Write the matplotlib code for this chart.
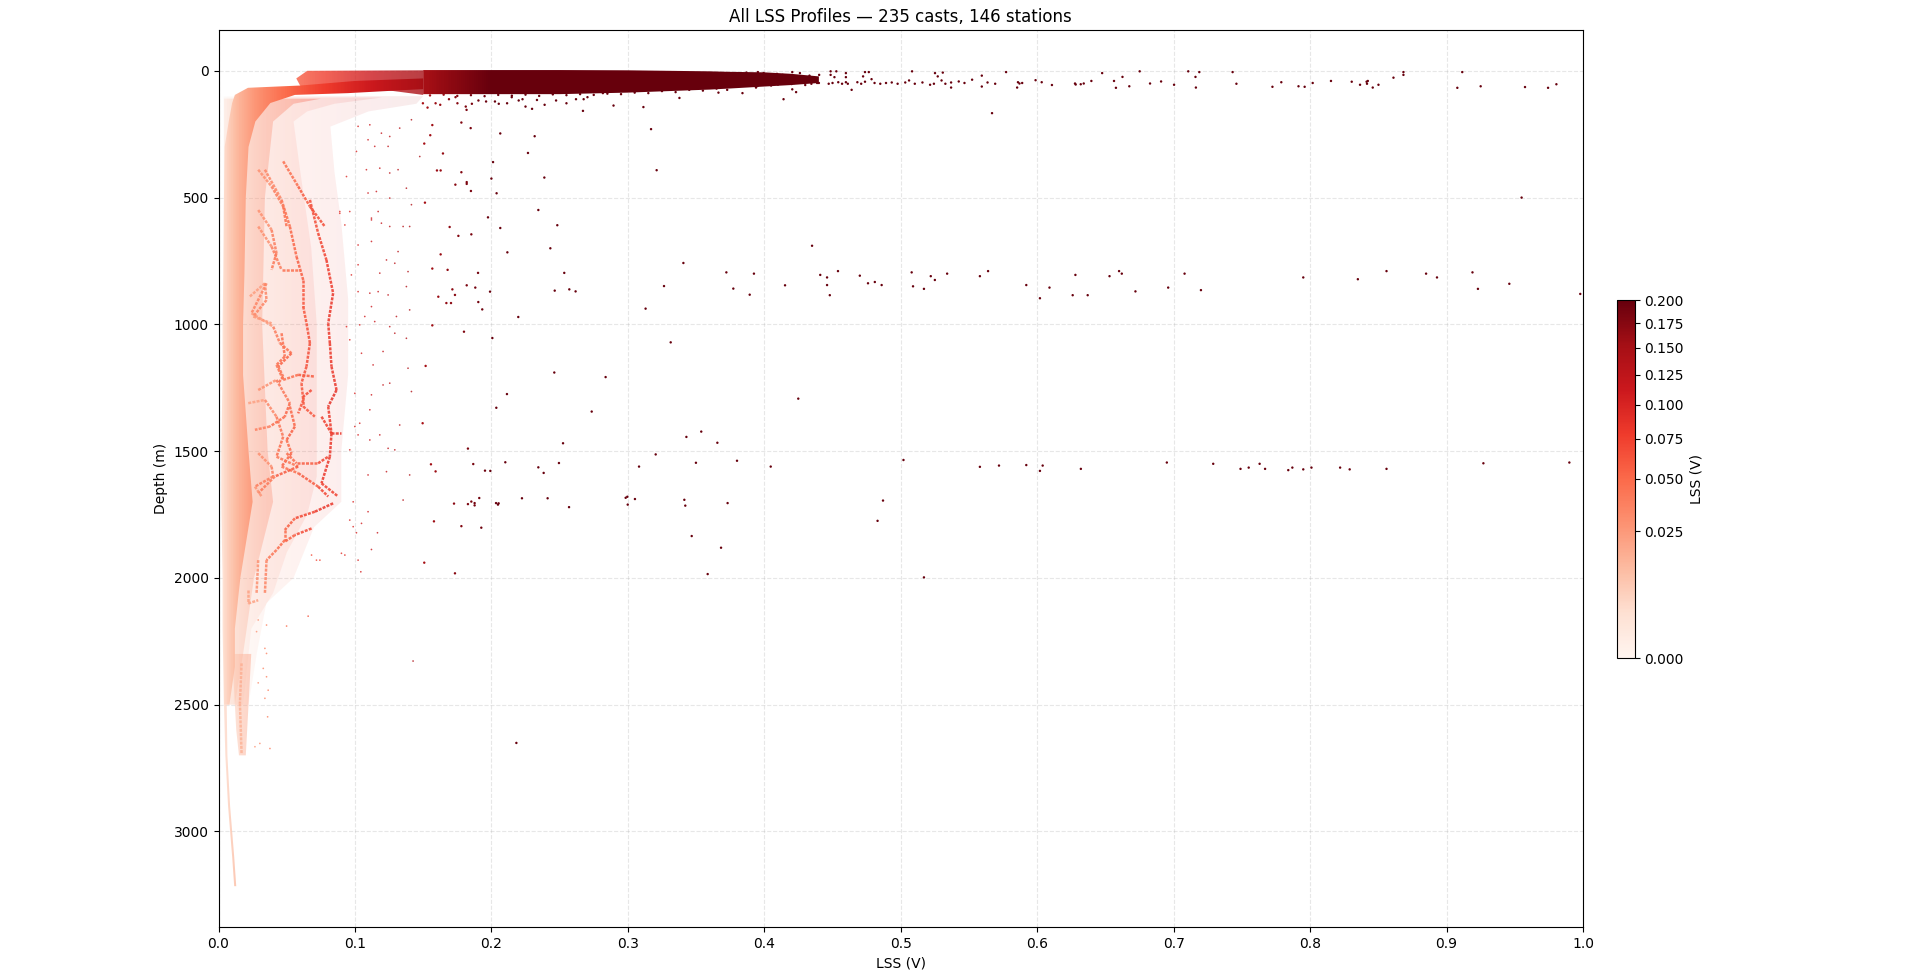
import matplotlib
matplotlib.use('Agg')
import numpy as np
import matplotlib.pyplot as plt
from matplotlib.colors import PowerNorm
from matplotlib.cm import ScalarMappable
from matplotlib.collections import LineCollection
from matplotlib.patches import Polygon

# dense body of the casts: edges of the cloud per depth
body_depth = [95, 127, 200, 300, 500, 800, 1000, 1200, 1500, 1700, 2000, 2200, 2350, 2500]
body_left = [.012, .010, .0075, .0045, .004, .0035, .003, .003, .002, .002, .003, .003, .0035, .004]
body_right = [.056, .038, .027, .022, .020, .019, .018, .018, .022, .025, .016, .012, .012, .008]

# thin deep tail
tail_depth = [2500, 2700, 2900, 3100, 3216]
tail_left = [.0040, .0050, .0070, .0100, .0115]
tail_right = [.0060, .0065, .0085, .0115, .0130]

# speckled cloud right of the body, three densities
inner_depth = [110, 130, 200, 500, 1000, 1500, 1700, 2000, 2300, 2500]
inner_right = [.075, .055, .040, .034, .032, .036, .040, .026, .018, .012]
mid_depth = [105, 130, 160, 200, 400, 700, 1000, 1300, 1600, 1750, 1900, 2060, 2200, 2500]
mid_right = [.12, .085, .065, .055, .060, .068, .072, .072, .072, .065, .050, .040, .024, .018]
outer_depth = [100, 130, 160, 220, 400, 600, 900, 1200, 1500, 1700, 1800, 2000, 2100, 2300, 2500]
outer_right = [.15, .145, .11, .082, .085, .09, .095, .095, .09, .09, .07, .055, .035, .028, .022]

# patch of samples around 2500-2700 m
blob_depth = [2300, 2500, 2600, 2700]
blob_left = [.010, .012, .013, .015]
blob_right = [.024, .022, .021, .020]

# surface band
band_lss = [.15, .2, .25, .3, .33, .36, .374, .40, .42, .44]
band_top = [-3, -3, -3, -2, 0, 2, 4, 6, 12, 22]
band_bot = [92, 92, 92, 86, 80, 74, 70, 62, 56, 48]

# ridges inside the cloud, (lss, depth)
ridge_a_lss = [.0670, .0730, .0791, .0840, .0804, .0816, .0828, .0865, .0804, .0828, .0816, .0755, .0877]
ridge_a_depth = [509, 640, 746, 877, 996, 1074, 1166, 1259, 1324, 1430, 1522, 1627, 1679]
ridge_b_lss = [.034, .0462, .0523, .0572, .0621, .0621, .0645, .0670, .0645, .0608, .0621, .0584]
ridge_b_depth = [390, 509, 614, 733, 825, 930, 996, 1074, 1166, 1232, 1298, 1351]
ridge_c_lss = [.0523, .0560, .0499, .0535, .0462, .0584, .0730, .0804]
ridge_c_depth = [1324, 1403, 1456, 1508, 1561, 1587, 1640, 1679]
ridge_d_lss = [.0352, .0242, .0401, .0450, .0535, .0438, .0474, .0438]
ridge_d_depth = [838, 956, 1009, 1074, 1114, 1166, 1206, 1232]
ridge_e_lss = [.0291, .0389, .0462, .0596]
ridge_e_depth = [614, 693, 785, 785]
ridge_f_lss = [.0218, .0340, .0425, .0474, .0425, .0584, .0413, .0291]
ridge_f_depth = [1311, 1298, 1364, 1443, 1522, 1561, 1600, 1666]
ridge_g_lss = [.0840, .0706, .0560, .0486, .0486, .0425, .0352, .0340]
ridge_g_depth = [1706, 1739, 1765, 1811, 1851, 1890, 1930, 2061]
ridge_h_lss = [.0291, .0279]
ridge_h_depth = [1930, 2061]
ridge_i_lss = [.0682, .0560, .0486]
ridge_i_depth = [1805, 1831, 1857]
ridge_j_lss = [.0169, .0157, .0169]
ridge_j_depth = [2337, 2495, 2692]
ridge_k_lss = [.0291, .0389, .0425, .0389]
ridge_k_depth = [549, 627, 719, 785]
ridge_l_lss = [.0230, .0340, .0352, .0255, .0389]
ridge_l_depth = [890, 838, 904, 969, 996]
ridge_m_lss = [.0462, .0486, .0425, .0474, .0584, .0706]
ridge_m_depth = [1035, 1127, 1160, 1219, 1199, 1206]
ridge_n_lss = [.0291, .0425, .0523, .0486, .0377, .0267]
ridge_n_depth = [1259, 1219, 1311, 1364, 1403, 1416]
ridge_o_lss = [.0682, .0621, .0621, .0706]
ridge_o_depth = [1259, 1285, 1324, 1364]
ridge_p_lss = [.0755, .0828, .0901]
ridge_p_depth = [1364, 1430, 1430]
ridge_q_lss = [.0499, .0572, .0730, .0804]
ridge_q_depth = [1508, 1548, 1548, 1522]
ridge_r_lss = [.0291, .0389, .0401, .0267, .0316]
ridge_r_depth = [1508, 1561, 1600, 1640, 1679]
ridge_s_lss = [.0291, .0389, .0474, .0499]
ridge_s_depth = [390, 456, 535, 614]
ridge_t_lss = [.0474, .0584, .0670, .0779]
ridge_t_depth = [357, 456, 535, 614]
ridge_u_lss = [.0218, .0218, .0291]
ridge_u_depth = [2048, 2101, 2088]

# faint single samples
faint_lss = [.0889, .0926, .1023, .1121, .1170, .1255, .1353, .1401, .1121, .1316, .1231, .1292, .1389, .1023, .1182,
             .0974, .1023, .1243, .1170, .1109, .1377, .1121, .1072, .1304, .1401, .0938, .1145, .1255, .1035, .1377,
             .1292, .0962, .1048, .1206, .1389, .1133, .1255, .1206, .1414, .0999, .1121, .1109, .1035, .1328, .1182,
             .1109, .1023, .0999, .0962, .1243, .1292, .1231, .1096, .1401, .1353,
             .1023, .1109, .1194, .1255, .1414, .1328, .1011, .1096, .1145, .1243, .1475, .1084, .1182, .1255, .1316,
             .1377, .0938, .1096, .1157, .1255, .0889, .0962, .1121, .1414, .1194,
             .0987, .1096, .0962, .0987, .1011, .1048, .1165, .0901, .0926, .1023, .0743, .0682, .0718, .1121, .1043,
             .0657, .0499, .1426, .0352, .0279, .0291, .0340, .0352, .0328, .0352, .0291, .0364, .0340, .0360, .0377,
             .0267, .0303]
faint_depth = [562, 608, 687, 588, 555, 614, 614, 614, 673, 713, 746, 759, 792, 765, 798,
               805, 871, 884, 871, 877, 851, 930, 969, 969, 943, 1009, 989, 1009, 1002, 1055,
               1035, 1061, 1114, 1107, 1173, 1160, 1232, 1239, 1265, 1272, 1278, 1337, 1390, 1397, 1436,
               1456, 1436, 1403, 1495, 1489, 1495, 1581, 1594, 1594, 1693,
               219, 213, 246, 259, 193, 226, 318, 272, 298, 298, 338, 390, 384, 403, 390,
               463, 417, 482, 476, 502, 555, 555, 581, 528, 601,
               1700, 1739, 1772, 1798, 1822, 1785, 1822, 1903, 1910, 1930, 1930, 1910, 1930, 1888, 1976,
               2151, 2190, 2328, 2186, 2212, 2166, 2278, 2298, 2357, 2390, 2414, 2443, 2475, 2548, 2673,
               2666, 2653]

# strong outliers, mid depths
out_lss = [.1567, .1780, .1848, .2065, .2317, .3170, .1552, .1508, .1645, .2268, .2012, .1601, .1628, .1780, .3211,
           .2000, .2388, .1736, .1819, .1819, .1850, .2038, .1513, .2344, .1975, .1694, .2065, .2483, .1758, .1853,
           .2432, .1628, .2117, .3407, .1567, .1679, .1902, .2534, .3722, .3924, .1819, .1882, .1714, .1990, .2464,
           .2571, .2617, .3265, .3773, .4152, .3893, .1611, .1733, .1670, .1704, .1904, .1933, .3130, .2197, .1567,
           .1799, .2007, .3314, .1518, .2461, .2837, .2114, .4249, .2036, .2735, .1496, .3538, .3429, .2525, .3656,
           .1828, .3204, .1557, .1867, .2102, .2495, .3499, .3800, .3082, .2344, .4047, .1591, .1953, .1992, .2383,
           .1726, .1828, .1853, .1877, .1877, .1911, .2034, .2048, .2053, .2224, .2412, .2569, .2984, .2996, .2999,
           .3052, .3414, .3421, .3731, .1579, .1780, .1926, .3468, .3683, .1508, .1733, .3585, .2183]
out_depth = [214, 204, 226, 247, 258, 230, 254, 287, 326, 324, 360, 393, 393, 400, 392,
             425, 421, 449, 439, 446, 474, 483, 520, 549, 578, 616, 620, 609, 651, 645,
             700, 724, 716, 758, 780, 785, 797, 797, 795, 800, 846, 855, 862, 871, 867,
             862, 870, 849, 859, 846, 883, 891, 884, 916, 916, 912, 941, 938, 971, 1004,
             1029, 1054, 1071, 1164, 1190, 1208, 1275, 1293, 1329, 1344, 1390, 1423, 1444, 1469, 1467,
             1490, 1513, 1552, 1551, 1544, 1547, 1546, 1538, 1561, 1564, 1561, 1580, 1577, 1578, 1586,
             1707, 1709, 1699, 1705, 1714, 1685, 1705, 1711, 1706, 1686, 1686, 1721, 1684, 1680, 1711,
             1689, 1692, 1715, 1705, 1777, 1796, 1802, 1835, 1881, 1940, 1982, 1985, 2651]

# strong outliers near 800 m and 1550 m, right part
far_lss = [.441, .446, .446, .448, .454, .470, .476, .481, .486, .508, .509, .517, .522, .525, .534, .558, .564,
           .592, .602, .609, .626, .628, .637, .653, .660, .662, .672, .696, .708, .720, .795, .835, .856, .885,
           .893, .919, .923, .946, .998, .435, .955, .517,
           .502, .558, .572, .592, .602, .604, .632, .695, .729, .749, .755, .763, .767, .784, .787, .795, .801,
           .822, .829, .856, .927, .990, .483, .487]
far_depth = [805, 815, 845, 885, 790, 808, 838, 833, 845, 795, 850, 860, 810, 825, 800, 810, 790,
             845, 897, 855, 885, 805, 885, 810, 790, 800, 870, 855, 800, 865, 815, 822, 790, 800,
             815, 795, 860, 840, 880, 690, 500, 1998,
             1535, 1562, 1557, 1555, 1578, 1557, 1570, 1545, 1550, 1570, 1565, 1550, 1570, 1575, 1565, 1572, 1565,
             1565, 1572, 1570, 1548, 1545, 1775, 1695]

# strong outliers along the surface, right part
top_lss = [.5772, .5853, .5859, .5870, .5890, .5988, .6033, .6108, .6277, .6282, .6319, .6341, .6397, .6476, .6563,
           .6577, .6625, .6675, .6751, .6827, .6908, .7003, .7107, .7160, .7163, .7188, .7432, .7460, .7724, .7789,
           .7915, .7960, .8019, .8153, .8305, .8366, .8414, .8423, .8417, .8459, .8501, .8611, .8684, .8684, .9079,
           .9115, .9250, .9575, .9744, .9805,
           .4486, .4528, .4486, .4598, .4514, .4598, .4738, .4766, .4724, .4786, .5083, .5251, .5308, .5271, .5594,
           .4472, .4500, .4542, .4570, .4598, .4612, .4682, .4710, .4738, .4808, .4850, .4892, .4934, .4977, .5033,
           .5061, .5103, .5159, .5215, .5243, .5299, .5327, .5369, .5425, .5467, .5523, .5594, .5636, .5692, .5369,
           .4640, .4261, .4331, .4402, .4387, .4205, .4135, .4163, .4219, .4303, .4345, .4275, .4093, .3995, .3953,
           .3869, .3798, .3770, .4233, .4205, .3840, .3939, .3728, .3664, .3378, .3114, .4141, .5669]
top_depth = [5, 66, 45, 50, 48, 37, 45, 56, 50, 54, 53, 50, 40, 9, 40,
             67, 24, 61, 2, 50, 42, 55, 2, 24, 66, 5, 5, 51, 63, 45,
             61, 63, 48, 40, 43, 55, 43, 40, 51, 66, 55, 27, 5, 16, 67,
             5, 61, 64, 67, 53,
             2, 2, 16, 9, 25, 25, 5, 5, 22, 33, 2, 9, 7, 22, 19,
             51, 48, 45, 51, 45, 51, 45, 51, 43, 48, 51, 48, 46, 51, 46,
             38, 51, 46, 55, 51, 38, 51, 46, 42, 48, 35, 62, 46, 51, 66,
             75, 9, 19, 16, 48, 5, 16, 35, 48, 38, 51, 27, 12, 9, 5,
             7, 9, 22, 84, 73, 88, 66, 75, 86, 107, 143, 112, 167]

# strong outliers just under the surface band
under_lss = [.1498, .1532, .1591, .1625, .1689, .1737, .1751, .1812, .1818, .1857, .1905, .1961, .2026, .2054, .2115,
             .2149, .2200, .2228, .2250, .2298, .2334, .2390, .2474, .2550, .2620, .2676, .2704, .2671, .2817, .2895,
             .155, .165, .175, .185, .195, .205, .215, .225, .235, .245, .255, .265, .275, .285, .295, .305, .315,
             .325, .335, .345, .355, .365,
             .380, .385, .39, .395, .40, .405, .41, .415, .42, .425, .43, .435, .44, .378, .388, .398, .408, .418,
             .428, .438]
under_depth = [128, 145, 128, 134, 112, 104, 128, 141, 154, 130, 117, 121, 121, 130, 128,
               104, 117, 112, 141, 150, 115, 134, 117, 128, 112, 112, 104, 158, 88, 137,
               97, 94, 99, 96, 100, 95, 98, 94, 99, 93, 96, 92, 95, 90, 92, 86, 88,
               80, 84, 75, 78, 70,
               62, 58, 55, 60, 52, 58, 54, 46, 52, 44, 56, 42, 48, 30, 36, 28, 34, 28,
               40, 32]

cbar_ticks = [0, .025, .05, .075, .1, .125, .15, .175, .2]

norm = PowerNorm(gamma=0.5, vmin=0, vmax=0.2)
cmap = 'Reds'

fig = plt.figure(figsize=(19.2, 9.75), dpi=100)
ax = fig.add_axes([218.5 / 1920, 1 - 927 / 975, (1583 - 218.5) / 1920, (927 - 30) / 975])
ylim = (3377, -161)
gradient = np.linspace(0, 1, 2000).reshape(1, -1)


def shade(xy, alpha=1.0, zorder=2):
    # colour follows lss, the polygon cuts out the cloud
    im = ax.imshow(gradient, extent=[0, 1, ylim[0], ylim[1]], aspect='auto', cmap=cmap, norm=norm,
                   alpha=alpha, interpolation='nearest', zorder=zorder)
    im.set_clip_path(Polygon(xy, transform=ax.transData))


# speckle haze, widest first
for dep, right, a in [(outer_depth, outer_right, 0.08), (mid_depth, mid_right, 0.1), (inner_depth, inner_right, 0.3)]:
    shade(list(zip(right, dep)) + [(.004, dep[-1]), (.004, dep[0])], alpha=a)
shade(list(zip(blob_left, blob_depth)) + list(zip(blob_right, blob_depth))[::-1], alpha=0.45)

# main body plus shoulder up to the surface band
shoulder = [(.0216, 67), (.06, 58), (.10, 40), (.15, 30), (.15, 72), (.095, 88)]
xy = list(zip(body_left, body_depth))[::-1] + shoulder + list(zip(body_right, body_depth))
shade(xy)
shade(list(zip(tail_left, tail_depth)) + list(zip(tail_right, tail_depth))[::-1], alpha=0.8)

# patchy lighter part of the surface band
shade([(.057, 30), (.065, 0), (.15, -2), (.15, 95), (.10, 60), (.06, 60)], alpha=0.8)
shade(list(zip(band_lss, band_top)) + list(zip(band_lss, band_bot))[::-1], zorder=3)

ridges = [(ridge_a_lss, ridge_a_depth), (ridge_b_lss, ridge_b_depth), (ridge_c_lss, ridge_c_depth),
          (ridge_d_lss, ridge_d_depth), (ridge_e_lss, ridge_e_depth), (ridge_f_lss, ridge_f_depth),
          (ridge_g_lss, ridge_g_depth), (ridge_h_lss, ridge_h_depth), (ridge_i_lss, ridge_i_depth),
          (ridge_j_lss, ridge_j_depth), (ridge_k_lss, ridge_k_depth), (ridge_l_lss, ridge_l_depth),
          (ridge_m_lss, ridge_m_depth), (ridge_n_lss, ridge_n_depth), (ridge_o_lss, ridge_o_depth),
          (ridge_p_lss, ridge_p_depth), (ridge_q_lss, ridge_q_depth), (ridge_r_lss, ridge_r_depth),
          (ridge_s_lss, ridge_s_depth), (ridge_t_lss, ridge_t_depth), (ridge_u_lss, ridge_u_depth)]
for lss, depth in ridges:
    pts = np.column_stack([lss, depth])
    segs = np.stack([pts[:-1], pts[1:]], axis=1)
    lc = LineCollection(segs, cmap=cmap, norm=norm, linewidths=1.8, linestyles=[(0, (1.2, 0.5))], alpha=0.85, zorder=3)
    lc.set_array(np.array(lss[:-1]))
    ax.add_collection(lc)

ax.scatter(faint_lss, faint_depth, c=faint_lss, cmap=cmap, norm=norm, s=1.5, linewidths=0, alpha=0.8, zorder=3)
for lss, depth in [(out_lss, out_depth), (far_lss, far_depth), (top_lss, top_depth), (under_lss, under_depth)]:
    ax.scatter(lss, depth, c=lss, cmap=cmap, norm=norm, s=3, linewidths=0, zorder=4)

ax.set_xlim(0, 1)
ax.set_ylim(*ylim)
ax.set_xticks(np.arange(0, 1.01, 0.1))
ax.set_yticks([0, 500, 1000, 1500, 2000, 2500, 3000])
ax.grid(True, linestyle='--', alpha=0.3)
ax.set_axisbelow(True)
ax.set_xlabel('LSS (V)')
ax.set_ylabel('Depth (m)')
ax.set_title('All LSS Profiles — 235 casts, 146 stations')

cax = fig.add_axes([1617 / 1920, 1 - 658 / 975, 17.5 / 1920, 358 / 975])
cb = fig.colorbar(ScalarMappable(norm=norm, cmap=cmap), cax=cax, ticks=cbar_ticks)
cb.set_label('LSS (V)')

fig.savefig('out.png', dpi=100)
